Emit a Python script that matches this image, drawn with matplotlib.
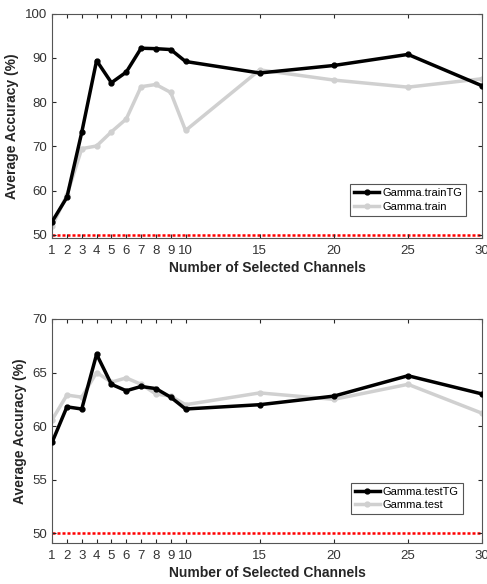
import matplotlib
matplotlib.use('Agg')
import matplotlib.pyplot as plt

channels = [1, 2, 3, 4, 5, 6, 7, 8, 9, 10, 15, 20, 25, 30]

train_tg = [53.0, 58.5, 73.2, 89.4, 84.4, 86.8, 92.2, 92.1, 91.9, 89.2, 86.6, 88.3, 90.8, 83.7]
train = [52.0, 59.0, 69.5, 70.1, 73.3, 76.2, 83.5, 84.0, 82.2, 73.6, 87.3, 85.0, 83.4, 85.3]

test_tg = [58.5, 61.8, 61.6, 66.7, 63.9, 63.3, 63.7, 63.5, 62.7, 61.6, 62.0, 62.8, 64.7, 63.0]
test = [60.6, 62.9, 62.7, 65.0, 64.1, 64.5, 63.9, 63.0, 62.8, 62.0, 63.1, 62.5, 63.9, 61.2]

chance = 50

plt.rcParams['font.family'] = ['Liberation Sans', 'DejaVu Sans']

fig = plt.figure(figsize=(4.87, 5.84), dpi=100)

panels = [
    # (rect, tg, base, tg label, base label, ylim, yticks, legend anchor)
    ([0.107, 0.5925, 0.883, 0.384], train_tg, train, 'Gamma.trainTG', 'Gamma.train',
     (49.3, 100), range(50, 101, 10), (0.975, 0.075)),
    ([0.107, 0.070, 0.883, 0.384], test_tg, test, 'Gamma.testTG', 'Gamma.test',
     (49.1, 70), range(50, 71, 5), (0.968, 0.105)),
]

for rect, tg, base, lab_tg, lab_base, ylim, yticks, anchor in panels:
    ax = fig.add_axes(rect)
    ax.axhline(chance, color='red', linestyle=(0, (1.2, 0.8)), linewidth=1.8, zorder=1)
    ax.plot(channels, tg, color='black', linewidth=2.5, marker='o', markersize=3.5,
            label=lab_tg, zorder=3)
    ax.plot(channels, base, color='#d0d0d0', linewidth=2.5, marker='o', markersize=3.5,
            label=lab_base, zorder=2)
    ax.set_xlim(1, 30)
    ax.set_ylim(*ylim)
    ax.set_xticks(channels)
    ax.set_yticks(list(yticks))
    ax.tick_params(direction='in', top=True, right=True, length=3, width=0.8,
                   colors='#262626', labelsize=9.5, labelcolor='#333333')
    ax.tick_params(axis='x', pad=5)
    for s in ax.spines.values():
        s.set_color('#555555')
        s.set_linewidth(0.8)
    ax.set_xlabel('Number of Selected Channels', fontsize=10, fontweight='bold',
                  color='#262626', labelpad=3)
    ax.set_ylabel('Average Accuracy (%)', fontsize=10, fontweight='bold', color='#262626')
    leg = ax.legend(loc='lower right', bbox_to_anchor=anchor, fontsize=8, fancybox=False,
                    framealpha=1, edgecolor='#555555', handlelength=2.2,
                    borderpad=0.35, labelspacing=0.3, handletextpad=0.3)
    leg.get_frame().set_linewidth(0.8)

fig.savefig('out.png', dpi=100)
